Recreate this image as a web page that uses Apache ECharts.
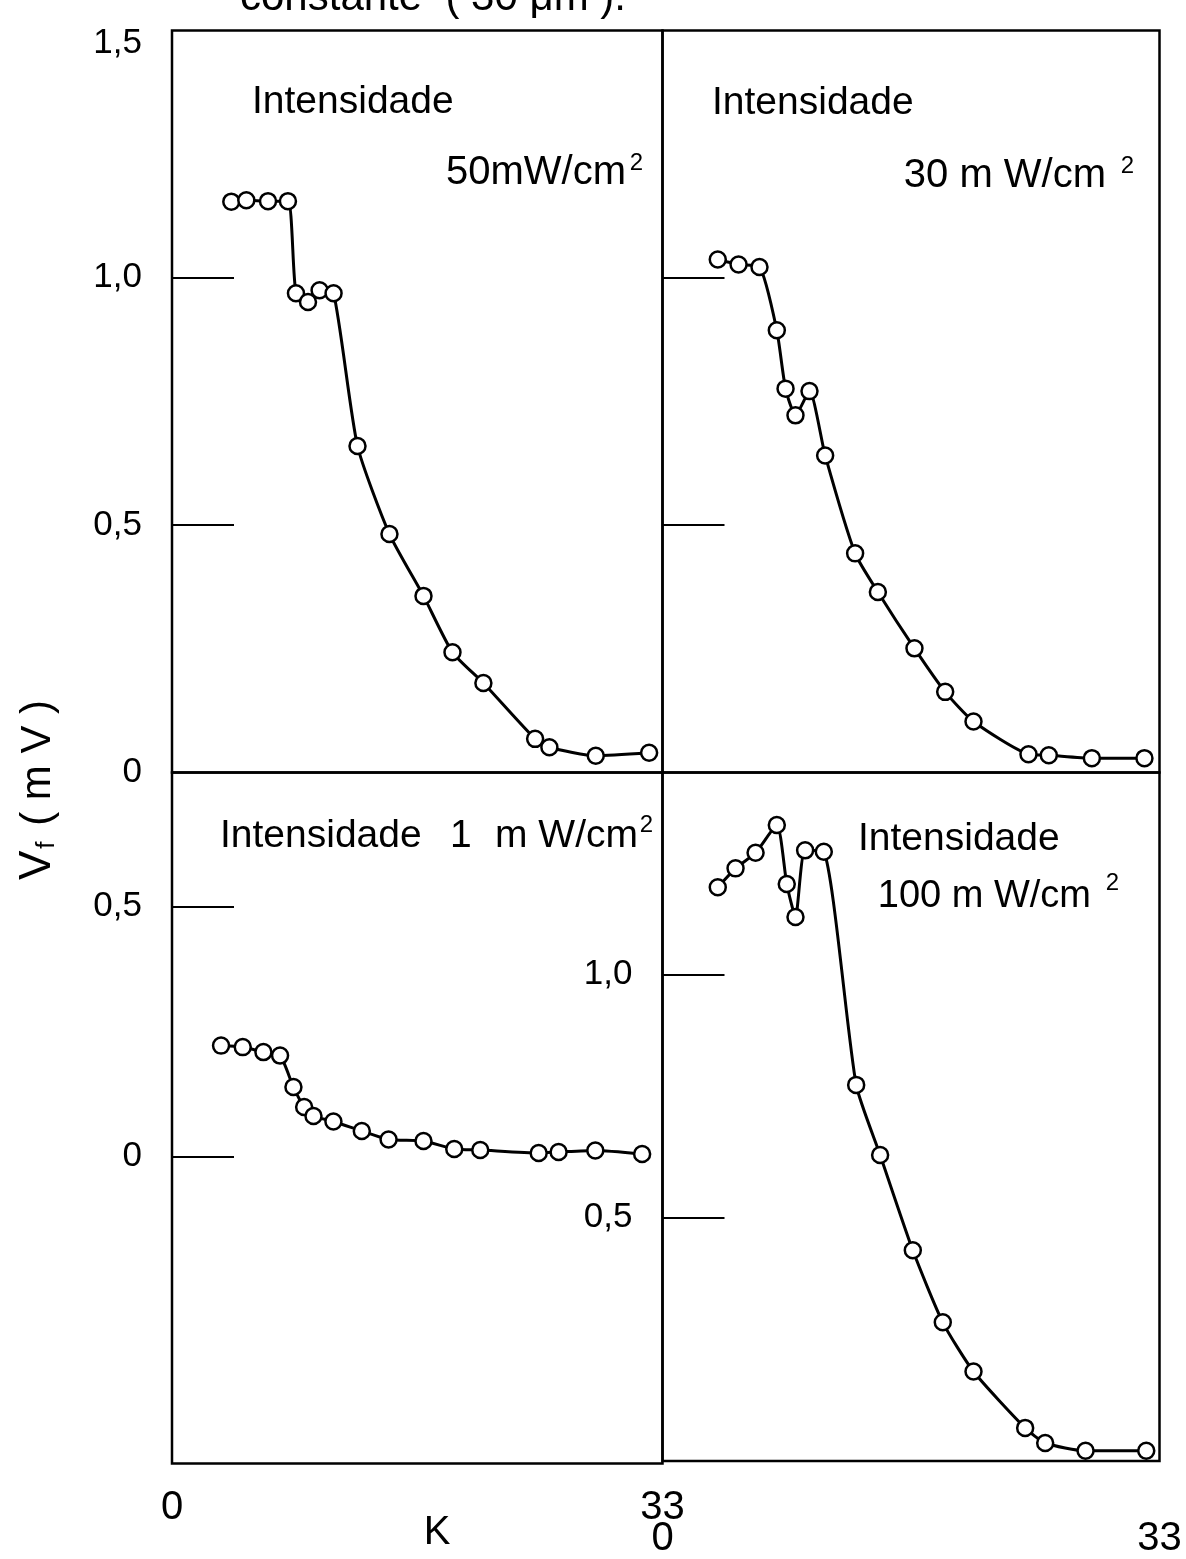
<!DOCTYPE html>
<html>
<head>
<meta charset="utf-8">
<script src="https://cdn.jsdelivr.net/npm/echarts@6/dist/echarts.min.js"></script>
<style>
html,body{margin:0;padding:0;background:#fff;}
#c{width:1186px;height:1559px;}
</style>
</head>
<body>
<div id="c"></div>
<script>
// ---- Data (K, Vf in mV) ----
// 50 mW/cm2 (top-left)
const k50 = [3.99, 5.0, 6.46, 7.80, 8.34, 9.15, 9.93, 10.87, 12.48, 14.63, 16.92, 18.87, 20.95, 24.43, 25.39, 28.51, 32.10];
const v50 = [1.154, 1.157, 1.155, 1.155, 0.969, 0.951, 0.975, 0.969, 0.660, 0.482, 0.357, 0.243, 0.181, 0.068, 0.051, 0.034, 0.040];
// 30 mW/cm2 (top-right)
const k30 = [3.67, 5.05, 6.44, 7.59, 8.17, 8.83, 9.76, 10.80, 12.79, 14.30, 16.73, 18.77, 20.65, 24.30, 25.65, 28.51, 32.0];
const v30 = [1.037, 1.027, 1.022, 0.894, 0.776, 0.722, 0.771, 0.641, 0.443, 0.365, 0.251, 0.163, 0.103, 0.037, 0.035, 0.029, 0.029];
// 1 mW/cm2 (bottom-left)
const k1 = [3.30, 4.76, 6.15, 7.27, 8.17, 8.89, 9.52, 10.86, 12.77, 14.57, 16.92, 18.99, 20.74, 24.67, 26.01, 28.48, 31.63];
const v1 = [0.222, 0.219, 0.209, 0.202, 0.139, 0.099, 0.081, 0.070, 0.051, 0.034, 0.031, 0.015, 0.013, 0.007, 0.009, 0.012, 0.005];
// 100 mW/cm2 (bottom-right)
const k100 = [3.67, 4.85, 6.18, 7.59, 8.25, 8.83, 9.47, 10.71, 12.86, 14.45, 16.62, 18.61, 20.65, 24.08, 25.41, 28.09, 32.12];
const v100 = [1.179, 1.218, 1.250, 1.307, 1.186, 1.118, 1.255, 1.252, 0.773, 0.629, 0.433, 0.285, 0.184, 0.068, 0.037, 0.021, 0.021];

// tick values
const ticksTL = [0.5, 1.0];
const labelsTL = [0, 0.5, 1.0, 1.5];
const ticksTR = [0.5, 1.0];
const ticksBL = [0, 0.5];
const labelsBL = [0, 0.5];
const ticksBR = [0.5, 1.0];
const labelsBR = [0.5, 1.0];
const xLabels = [0, 33];

const FONT = '"Liberation Sans", Arial, sans-serif';
const fmt = v => v === 0 ? '0' : v.toFixed(1).replace('.', ',');
const pairs = (k, v) => k.map((x, i) => [x, v[i]]);

const grids = [
  {left: 172, top: 30.5, width: 490.5, height: 742},
  {left: 662.5, top: 30.5, width: 497, height: 742},
  {left: 172, top: 772.5, width: 490.5, height: 691},
  {left: 662.5, top: 772.5, width: 497, height: 691}
].map(g => Object.assign({show: true, borderColor: '#000', borderWidth: 2.5, backgroundColor: 'transparent'}, g));

function xAxis(idx, showLabels, margin) {
  return {
    gridIndex: idx, type: 'value', min: 0, max: 33,
    axisLine: {show: false}, axisTick: {show: false}, splitLine: {show: false},
    axisLabel: showLabels ? {
      show: true, customValues: xLabels, margin: margin,
      fontFamily: FONT, fontSize: 40, color: '#000', formatter: v => String(v)
    } : {show: false}
  };
}
function yAxis(idx, min, max, ticks, labels) {
  return {
    gridIndex: idx, type: 'value', min: min, max: max,
    axisLine: {show: false}, splitLine: {show: false},
    axisTick: {show: true, inside: true, length: 62, customValues: ticks, lineStyle: {color: '#000', width: 2}},
    axisLabel: labels ? {
      show: true, customValues: labels, margin: 30,
      fontFamily: FONT, fontSize: 35, color: '#000',
      formatter: v => (Math.abs(v - 1.5) < 1e-6 ? '{d|' + fmt(v) + '}' : fmt(v)),
      rich: {d: {fontFamily: FONT, fontSize: 35, color: '#000', padding: [26, 0, 0, 0]}}
    } : {show: false}
  };
}
function series(idx, k, v) {
  return {
    type: 'line', xAxisIndex: idx, yAxisIndex: idx, data: pairs(k, v),
    smooth: 0.2, symbol: 'circle', symbolSize: 16, showSymbol: true,
    lineStyle: {color: '#000', width: 3},
    itemStyle: {color: '#fff', borderColor: '#000', borderWidth: 2.5},
    animation: false, silent: true
  };
}

const txt = (x, y, text, extra) => ({
  type: 'text', x: x, y: y, silent: true,
  style: Object.assign({
    text: text, fill: '#000', fontFamily: FONT, fontSize: 38,
    align: 'left', verticalAlign: 'middle'
  }, extra || {})
});
const sup = (xRight, y) => txt(xRight, y, '2', {align: 'right', fontSize: 24});

const option = {
  backgroundColor: '#fff',
  animation: false,
  grid: grids,
  xAxis: [xAxis(0, false), xAxis(1, false), xAxis(2, true, 24), xAxis(3, true, 58)],
  yAxis: [
    yAxis(0, 0, 1.5, ticksTL, labelsTL),
    yAxis(1, 0, 1.5, ticksTR, null),
    yAxis(2, -0.615, 0.769, ticksBL, labelsBL),
    yAxis(3, 0, 1.415, ticksBR, labelsBR)
  ],
  series: [series(0, k50, v50), series(1, k30, v30), series(2, k1, v1), series(3, k100, v100)],
  graphic: [
    txt(252, 102, 'Intensidade', {fontSize: 39}),
    txt(626, 173, '50mW/cm', {align: 'right', fontSize: 40}),
    sup(643, 163),
    txt(712, 103, 'Intensidade', {fontSize: 39}),
    txt(1106, 176, '30 m W/cm', {align: 'right', fontSize: 40}),
    sup(1134, 166),
    txt(220, 836, 'Intensidade', {fontSize: 39}),
    txt(450, 836, '1', {fontSize: 39}),
    txt(638, 836, 'm W/cm', {align: 'right', fontSize: 39}),
    sup(653, 825),
    txt(858, 839, 'Intensidade', {fontSize: 39}),
    txt(1091, 897, '100 m W/cm', {align: 'right', fontSize: 38}),
    sup(1119, 883),
    txt(437, 1533, 'K', {align: 'center', fontSize: 40}),
    {
      type: 'text', x: 38, y: 790, rotation: Math.PI / 2, silent: true,
      style: {
        text: '{v|V}{f|f} ( m V )', fill: '#000', fontFamily: FONT, fontSize: 42,
        align: 'center', verticalAlign: 'middle',
        rich: {
          v: {fontFamily: FONT, fontSize: 44, fill: '#000'},
          f: {fontFamily: FONT, fontSize: 26, fill: '#000', padding: [18, 4, 0, 2]}
        }
      }
    },
    txt(240, -2, 'constante  ( 30 μm ).', {verticalAlign: 'middle', fontSize: 42})
  ]
};

const chart = echarts.init(document.getElementById('c'), null, {renderer: 'canvas'});
chart.setOption(option);
</script>
</body>
</html>
